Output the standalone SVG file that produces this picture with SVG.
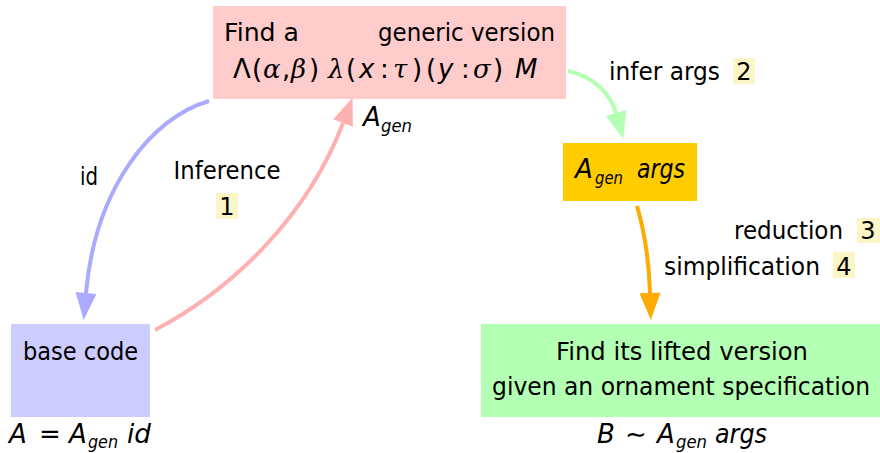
<svg xmlns="http://www.w3.org/2000/svg" width="880" height="453" viewBox="0 0 880 453">
  <style>
    text { font-family: "DejaVu Sans", "Liberation Sans", sans-serif; font-size: 24px; fill: #000; }
    .m { font-size: 26px; }
    .it { font-style: italic; }
    .gr { font-family: "DejaVu Serif", "Liberation Serif", serif; font-style: italic; }
    .sub { font-size: 17px; font-style: italic; }
    .hl { fill: #fcf6c6; }
    .edge { fill: none; stroke-width: 4; }
  </style>
  <defs>
    <marker id="head-blue" markerUnits="userSpaceOnUse" markerWidth="30" markerHeight="24" refX="0" refY="0" viewBox="0 -12 30 24" orient="auto" overflow="visible">
      <path d="M0,-10.5 L27,0 L0,10.5 Z" fill="#aaaaff"/>
    </marker>
    <marker id="head-pink" markerUnits="userSpaceOnUse" markerWidth="30" markerHeight="24" refX="0" refY="0" viewBox="0 -12 30 24" orient="auto" overflow="visible">
      <path d="M0,-10.5 L27,0 L0,10.5 Z" fill="#ffb0b0"/>
    </marker>
    <marker id="head-green" markerUnits="userSpaceOnUse" markerWidth="30" markerHeight="24" refX="0" refY="0" viewBox="0 -12 30 24" orient="auto" overflow="visible">
      <path d="M0,-10.5 L27,0 L0,10.5 Z" fill="#b3ffb3"/>
    </marker>
    <marker id="head-orange" markerUnits="userSpaceOnUse" markerWidth="30" markerHeight="24" refX="0" refY="0" viewBox="0 -12 30 24" orient="auto" overflow="visible">
      <path d="M0,-10.5 L27,0 L0,10.5 Z" fill="#ffaa00"/>
    </marker>
  </defs>

  <rect width="880" height="453" fill="#ffffff"/>

  <!-- generic version -->
  <g id="generic">
    <rect x="213" y="6" width="353" height="93" fill="#ffcccc"/>
    <text x="224" y="41" textLength="75" lengthAdjust="spacingAndGlyphs">Find a</text>
    <text x="378" y="41" textLength="177" lengthAdjust="spacingAndGlyphs">generic version</text>
    <text y="78" class="m"><tspan x="233">Λ</tspan><tspan x="252">(</tspan><tspan x="263" class="gr">α</tspan><tspan x="282">,</tspan><tspan x="291" class="gr">β</tspan><tspan x="309">)</tspan><tspan x="328" class="gr">λ</tspan><tspan x="346">(</tspan><tspan x="359" class="it">x</tspan><tspan x="380">:</tspan><tspan x="393" class="gr">τ</tspan><tspan x="412">)</tspan><tspan x="426">(</tspan><tspan x="438" class="it">y</tspan><tspan x="461">:</tspan><tspan x="473" class="gr">σ</tspan><tspan x="493">)</tspan><tspan x="515" class="it">M</tspan></text>
    <text x="363" y="126" class="m it">A</text>
    <text x="381" y="132" class="sub" textLength="31" lengthAdjust="spacingAndGlyphs">gen</text>
  </g>

  <!-- base code -->
  <g id="base">
    <rect x="11" y="324" width="139" height="93" fill="#ccccff"/>
    <text x="23" y="360" textLength="115" lengthAdjust="spacingAndGlyphs">base code</text>
    <text x="9" y="443" class="m it">A</text>
    <text x="39" y="443" class="m">=</text>
    <text x="69" y="443" class="m it">A</text>
    <text x="88" y="448" class="sub" textLength="30" lengthAdjust="spacingAndGlyphs">gen</text>
    <text x="127" y="443" class="m it" textLength="24" lengthAdjust="spacingAndGlyphs">id</text>
  </g>

  <!-- applied to arguments -->
  <g id="applied">
    <rect x="563" y="143" width="134" height="58" fill="#ffcc00"/>
    <text x="575" y="178" class="m it">A</text>
    <text x="595" y="184" class="sub" textLength="28" lengthAdjust="spacingAndGlyphs">gen</text>
    <text x="637" y="178" class="m it" textLength="48" lengthAdjust="spacingAndGlyphs">args</text>
  </g>

  <!-- lifted version -->
  <g id="lifted">
    <rect x="481" y="324" width="399" height="93" fill="#b3ffb3"/>
    <text x="556" y="360" textLength="252" lengthAdjust="spacingAndGlyphs">Find its lifted version</text>
    <text x="492" y="395" textLength="378" lengthAdjust="spacingAndGlyphs">given an ornament specification</text>
    <text x="597" y="443" class="m it">B</text>
    <text x="625" y="443" class="m">∼</text>
    <text x="657" y="443" class="m it">A</text>
    <text x="676" y="448" class="sub" textLength="31" lengthAdjust="spacingAndGlyphs">gen</text>
    <text x="715" y="443" class="m it" textLength="52" lengthAdjust="spacingAndGlyphs">args</text>
  </g>

  <!-- connectors -->
  <g id="connectors">
    <path class="edge" stroke="#aaaaff" d="M209,101 C150,118 95,190 86,293" marker-end="url(#head-blue)"/>
    <path class="edge" stroke="#ffb0b0" d="M155,330 C240,285 310,210 343,123" marker-end="url(#head-pink)"/>
    <path class="edge" stroke="#b3ffb3" d="M568,71 C592,76 610,92 616,113" marker-end="url(#head-green)"/>
    <path class="edge" stroke="#ffaa00" d="M637,206 C644,230 649,260 650,293" marker-end="url(#head-orange)"/>

    <text x="80" y="185" textLength="18" lengthAdjust="spacingAndGlyphs">id</text>
    <text x="227" y="179" text-anchor="middle" textLength="107" lengthAdjust="spacingAndGlyphs">Inference</text>
    <rect class="hl" x="216" y="193" width="22" height="26"/>
    <text x="227" y="215" text-anchor="middle">1</text>

    <text x="609" y="80" textLength="111" lengthAdjust="spacingAndGlyphs">infer args</text>
    <rect class="hl" x="733" y="58" width="22" height="26"/>
    <text x="744" y="80" text-anchor="middle">2</text>

    <text x="734" y="239" textLength="109" lengthAdjust="spacingAndGlyphs">reduction</text>
    <rect class="hl" x="857" y="218" width="23" height="25"/>
    <text x="868" y="239" text-anchor="middle">3</text>

    <text x="664" y="275" textLength="156" lengthAdjust="spacingAndGlyphs">simplification</text>
    <rect class="hl" x="833" y="252" width="22" height="26"/>
    <text x="844" y="275" text-anchor="middle">4</text>
  </g>
</svg>
